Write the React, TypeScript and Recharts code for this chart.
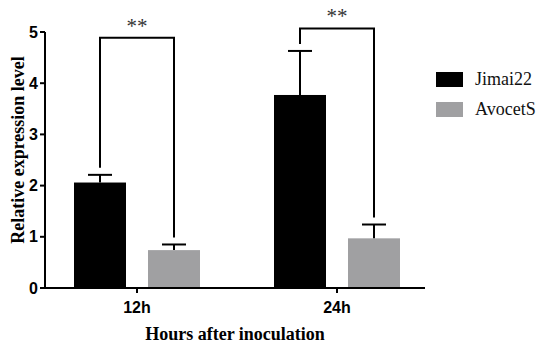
import React from 'react';
import { BarChart, Bar, XAxis, YAxis, Legend } from 'recharts';

const categories = ['12h', '24h'];
const seriesNames = ['Jimai22', 'AvocetS'];
const jimai = [2.06, 3.77];
const jimaiErr = [0.15, 0.86];
const avocet = [0.74, 0.97];
const avocetErr = [0.11, 0.27];
const bracket = [4.89, 5.07];
const significance = ['**', '**'];
const yTicks = [0, 1, 2, 3, 4, 5];

const data = categories.map((c, i) => ({
  cat: c,
  jimai: jimai[i],
  jimaiErr: jimaiErr[i],
  avocet: avocet[i],
  avocetErr: avocetErr[i],
  bracket: bracket[i],
  sig: significance[i],
}));

const BAR_SIZE = 52;
const BAR_GAP = 22;
const CAP = 12;
const GAP_PX = 7;
const BLACK = '#000000';
const GRAY = '#a0a0a2';

const JimaiShape = (props: any) => {
  const { x, y, width, height, payload } = props;
  const base = y + height;
  const ppu = height / payload.jimai;
  const cx = x + width / 2;
  const errTop = base - (payload.jimai + payload.jimaiErr) * ppu;
  const otherCx = cx + width + BAR_GAP;
  const otherErrTop = base - (payload.avocet + payload.avocetErr) * ppu;
  const brY = base - payload.bracket * ppu;
  return (
    <g>
      <rect x={x} y={y} width={width} height={height} fill={BLACK} />
      <line x1={cx} x2={cx} y1={y} y2={errTop} stroke={BLACK} strokeWidth={2} />
      <line x1={cx - CAP} x2={cx + CAP} y1={errTop} y2={errTop} stroke={BLACK} strokeWidth={2} />
      <path
        d={`M${cx},${errTop - GAP_PX} L${cx},${brY} L${otherCx},${brY} L${otherCx},${otherErrTop - GAP_PX}`}
        fill="none"
        stroke={BLACK}
        strokeWidth={2}
      />
      <text
        x={(cx + otherCx) / 2}
        y={brY - 5}
        textAnchor="middle"
        fontFamily='"Liberation Serif", serif'
        fontSize={21}
        fill="#333"
      >
        {payload.sig}
      </text>
    </g>
  );
};

const AvocetShape = (props: any) => {
  const { x, y, width, height, payload } = props;
  const base = y + height;
  const ppu = height / payload.avocet;
  const cx = x + width / 2;
  const errTop = base - (payload.avocet + payload.avocetErr) * ppu;
  return (
    <g>
      <rect x={x} y={y} width={width} height={height} fill={GRAY} />
      <line x1={cx} x2={cx} y1={y} y2={errTop} stroke={BLACK} strokeWidth={2} />
      <line x1={cx - CAP} x2={cx + CAP} y1={errTop} y2={errTop} stroke={BLACK} strokeWidth={2} />
    </g>
  );
};

const LegendContent = (props: any) => {
  const items = [...(props.payload || [])].sort(
    (a: any, b: any) => seriesNames.indexOf(a.value) - seriesNames.indexOf(b.value)
  );
  return (
    <div>
      {items.map((p: any) => (
        <div key={p.value} style={{ display: 'flex', alignItems: 'center', height: 30 }}>
          <span style={{ display: 'inline-block', width: 27, height: 15, background: p.color, marginRight: 12 }} />
          <span style={{ fontFamily: '"Liberation Serif", serif', fontSize: 18, color: '#111' }}>{p.value}</span>
        </div>
      ))}
    </div>
  );
};

export default function App() {
  return (
    <div style={{ position: 'absolute', left: 0, top: 0, width: 550, height: 352, background: '#fff' }}>
      <BarChart
        width={550}
        height={352}
        data={data}
        margin={{ top: 32, right: 125, bottom: 0, left: 0 }}
        barSize={BAR_SIZE}
        barGap={BAR_GAP}
      >
        <XAxis
          dataKey="cat"
          height={64}
          padding={{ left: -8, right: -12 }}
          axisLine={{ stroke: BLACK, strokeWidth: 2 }}
          tickLine={{ stroke: BLACK, strokeWidth: 2 }}
          tickSize={5}
          tickMargin={9}
          tick={{ fill: BLACK, fontFamily: '"Liberation Sans", Arial, sans-serif', fontWeight: 'bold', fontSize: 16 }}
          label={{
            content: (p: any) => {
              const vb = p.viewBox || {};
              return (
                <text
                  x={vb.x + vb.width / 2}
                  y={340}
                  textAnchor="middle"
                  fontFamily='"Liberation Serif", serif'
                  fontWeight="bold"
                  fontSize={18}
                  fill={BLACK}
                >
                  Hours after inoculation
                </text>
              );
            },
          }}
        />
        <YAxis
          width={45}
          domain={[0, 5]}
          ticks={yTicks}
          axisLine={{ stroke: BLACK, strokeWidth: 2 }}
          tickLine={{ stroke: BLACK, strokeWidth: 2 }}
          tickSize={5}
          tickMargin={2}
          tick={{ fill: BLACK, fontFamily: '"Liberation Sans", Arial, sans-serif', fontWeight: 'bold', fontSize: 16 }}
          label={{
            content: () => (
              <text
                x={24}
                y={150}
                transform="rotate(-90, 24, 150)"
                textAnchor="middle"
                fontFamily='"Liberation Serif", serif'
                fontWeight="bold"
                fontSize={18}
                fill={BLACK}
              >
                Relative expression level
              </text>
            ),
          }}
        />
        <Legend
          layout="horizontal"
          align="center"
          verticalAlign="middle"
          content={<LegendContent />}
          wrapperStyle={{ position: 'absolute', left: 436, top: 64, width: 114 }}
        />
        <Bar dataKey="jimai" name="Jimai22" fill={BLACK} shape={<JimaiShape />} isAnimationActive={false} legendType="square" />
        <Bar dataKey="avocet" name="AvocetS" fill={GRAY} shape={<AvocetShape />} isAnimationActive={false} legendType="square" />
      </BarChart>
    </div>
  );
}
